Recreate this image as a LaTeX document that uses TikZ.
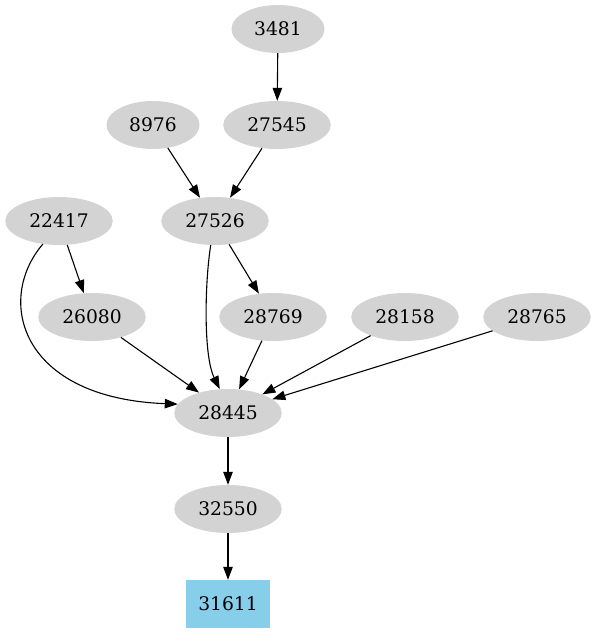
\documentclass[tikz,border=0pt]{standalone}
\usepackage{fontspec}
\setmainfont{DejaVu Serif}
\usetikzlibrary{shapes.geometric,arrows.meta}
\definecolor{nodegray}{RGB}{211,211,211}
\definecolor{skyblue}{RGB}{135,206,235}
\tikzset{
  gnode/.style={ellipse, fill=nodegray, draw=none, inner sep=0pt,
    minimum width=107.5pt, minimum height=48pt,
    font=\fontsize{18.7}{22}\selectfont},
  snode/.style={gnode, minimum width=93pt},
  bnode/.style={rectangle, fill=skyblue, draw=none, inner sep=0pt,
    minimum width=84pt, minimum height=48pt,
    font=\fontsize{18.7}{22}\selectfont},
  edge/.style={draw=black, line width=1.1pt, -{Triangle[length=13pt,width=9.5pt]}}
}
\begin{document}
\begin{tikzpicture}[x=1pt,y=-1pt]
\useasboundingbox (0,0) rectangle (597,635);
\node[snode] (n3481) at (278,29) {3481};
\node[snode] (n8976) at (153,125) {8976};
\node[gnode] (n27545) at (277,125) {27545};
\node[gnode] (n22417) at (59,221) {22417};
\node[gnode] (n27526) at (215,221) {27526};
\node[gnode] (n26080) at (92,317) {26080};
\node[gnode] (n28769) at (273,317) {28769};
\node[gnode] (n28158) at (405,317) {28158};
\node[gnode] (n28765) at (537,317) {28765};
\node[gnode] (n28445) at (228,413) {28445};
\node[gnode] (n32550) at (228,509) {32550};
\node[bnode] (n31611) at (228,604) {31611};

\draw[edge] (n3481) -- (n27545);
\draw[edge] (n8976) -- (n27526);
\draw[edge] (n27545) -- (n27526);
\draw[edge] (n22417) -- (n26080);
\draw[edge] (n22417.235) .. controls (-5,300) and (20,398) .. (n28445.170);
\draw[edge] (n27526.260) .. controls (205,280) and (203,355) .. (n28445.109);
\draw[edge] (n27526) -- (n28769);
\draw[edge] (n26080) -- (n28445);
\draw[edge] (n28769) -- (n28445);
\draw[edge] (n28158) -- (n28445);
\draw[edge] (n28765) -- (n28445);
\draw[edge] (n28445) -- (n32550);
\draw[edge] (n32550) -- (n31611);
\end{tikzpicture}
\end{document}
